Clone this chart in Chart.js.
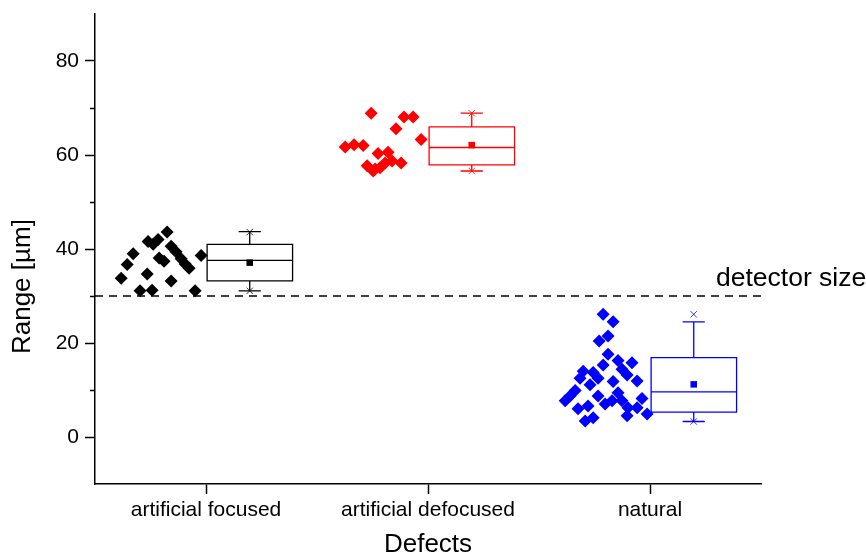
<!DOCTYPE html>
<html>
<head>
<meta charset="utf-8">
<script src="https://cdn.jsdelivr.net/npm/chart.js@4/dist/chart.umd.min.js"></script>
<style>
  html, body { margin: 0; padding: 0; background: #ffffff; }
  #wrap { width: 866px; height: 558px; }
</style>
</head>
<body>
<div id="wrap"><canvas id="c" width="866" height="558"></canvas></div>
<script>
// Defect groups along the x axis
const categories = ['artificial focused', 'artificial defocused', 'natural'];
const groupColors = ['#000000', '#ff0000', '#0000ff'];

// Measured ranges (µm) and their horizontal jitter within each group
const focusedValues  = [33.8, 36.7, 39.0, 31.1, 34.7, 31.2, 41.6, 41.0, 42.0, 43.6,
                        38.1, 37.4, 40.6, 39.4, 37.9, 36.8, 35.9, 33.2, 31.1, 38.6];
const focusedJitter  = [-0.382, -0.355, -0.328, -0.297, -0.265, -0.243, -0.261, -0.238, -0.216, -0.175,
                        -0.211, -0.189, -0.157, -0.135, -0.112, -0.094, -0.076, -0.157, -0.049, -0.022];

const defocusedValues = [61.7, 62.2, 62.0, 68.9, 57.7, 56.6, 57.3, 58.3, 58.7, 58.3,
                         60.3, 60.6, 65.6, 68.1, 68.1, 63.3, 57.0];
const defocusedJitter = [-0.373, -0.333, -0.292, -0.256, -0.274, -0.247, -0.216, -0.193, -0.162, -0.121,
                         -0.225, -0.180, -0.144, -0.108, -0.067, -0.031, -0.238];

const naturalValues = [26.1, 24.5, 20.4, 21.5, 17.6, 16.3, 15.8, 15.3, 14.0, 13.7,
                       12.5, 14.4, 13.2, 12.5, 11.1, 11.8, 11.9, 9.9, 8.7, 7.7,
                       9.4, 8.7, 7.7, 8.2, 7.0, 7.7, 6.0, 6.6, 6.2, 6.2,
                       4.9, 3.4, 4.1, 4.5];
const naturalJitter = [-0.211, -0.166, -0.229, -0.189, -0.189, -0.144, -0.081, -0.211, -0.301, -0.256,
                       -0.234, -0.126, -0.103, -0.315, -0.270, -0.166, -0.058, -0.337, -0.360, -0.382,
                       -0.144, -0.234, -0.126, -0.036, -0.202, -0.171, -0.324, -0.279, -0.099, -0.058,
                       -0.013, -0.292, -0.256, -0.103];

// Box statistics per group
const boxMin     = [31.1, 56.6, 3.3];
const whiskerLow = [31.1, 56.6, 3.3];
const q1         = [33.2, 57.9, 5.3];
const median     = [37.6, 61.6, 9.6];
const q3         = [41.0, 66.0, 16.9];
const whiskerHigh= [43.7, 68.9, 24.5];
const boxMax     = [43.6, 68.9, 26.1];
const mean       = [37.1, 62.1, 11.2];

// Reference level
const detectorSize = 30;
const detectorLabel = 'detector size';

// Axis titles
const xTitle = 'Defects';
const yTitle = 'Range [µm]';

// Y axis ticks
const majorTicks = [0, 20, 40, 60, 80];
const minorTicks = [10, 30, 50, 70];

const BOX_LEFT = 0.005, BOX_RIGHT = 0.39, BOX_MID = 0.197, CAP_HALF = 0.05;
const FONT = "'Liberation Sans', Arial, sans-serif";

const pointSets = [
  [focusedValues, focusedJitter],
  [defocusedValues, defocusedJitter],
  [naturalValues, naturalJitter]
];

const datasets = [];
pointSets.forEach(([vals, jit], i) => {
  datasets.push({
    type: 'scatter',
    data: vals.map((v, k) => ({ x: i + 1 + jit[k], y: v })),
    pointStyle: 'rectRot',
    radius: 6.5,
    backgroundColor: groupColors[i],
    borderColor: groupColors[i],
    borderWidth: 0,
    order: 1
  });
  // mean marker
  datasets.push({
    type: 'scatter',
    data: [{ x: i + 1 + BOX_MID, y: mean[i] }],
    pointStyle: 'rect',
    radius: 4.6,
    backgroundColor: groupColors[i],
    borderWidth: 0,
    order: 0
  });
  // min / max markers
  datasets.push({
    type: 'scatter',
    data: [{ x: i + 1 + BOX_MID, y: boxMin[i] }, { x: i + 1 + BOX_MID, y: boxMax[i] }],
    pointStyle: 'crossRot',
    radius: 4.5,
    borderColor: groupColors[i],
    borderWidth: 0.8,
    order: 0
  });
});

// dashed detector-size line across the whole x range
datasets.push({
  type: 'line',
  data: [{ x: 0.5, y: detectorSize }, { x: 3.5, y: detectorSize }],
  borderColor: '#000000',
  borderWidth: 1.6,
  borderDash: [8, 6],
  pointRadius: 0,
  fill: false,
  order: 5
});

const boxPlugin = {
  id: 'boxes',
  afterDatasetsDraw(chart) {
    const { ctx, scales: { x, y } } = chart;
    ctx.save();
    categories.forEach((_, i) => {
      const c = i + 1;
      const xl = x.getPixelForValue(c + BOX_LEFT);
      const xr = x.getPixelForValue(c + BOX_RIGHT);
      const xm = x.getPixelForValue(c + BOX_MID);
      const cl = x.getPixelForValue(c + BOX_MID - CAP_HALF);
      const cr = x.getPixelForValue(c + BOX_MID + CAP_HALF);
      const yq1 = y.getPixelForValue(q1[i]);
      const yq3 = y.getPixelForValue(q3[i]);
      const ymed = y.getPixelForValue(median[i]);
      const ylo = y.getPixelForValue(whiskerLow[i]);
      const yhi = y.getPixelForValue(whiskerHigh[i]);
      ctx.strokeStyle = groupColors[i];
      ctx.lineWidth = 1.3;
      ctx.beginPath();
      ctx.rect(xl, yq3, xr - xl, yq1 - yq3);
      ctx.moveTo(xl, ymed); ctx.lineTo(xr, ymed);
      ctx.moveTo(xm, yq3); ctx.lineTo(xm, yhi);
      ctx.moveTo(xm, yq1); ctx.lineTo(xm, ylo);
      ctx.moveTo(cl, yhi); ctx.lineTo(cr, yhi);
      ctx.moveTo(cl, ylo); ctx.lineTo(cr, ylo);
      ctx.stroke();
    });
    ctx.restore();
  }
};

const extrasPlugin = {
  id: 'extras',
  afterDraw(chart) {
    const { ctx, chartArea, scales: { y } } = chart;
    ctx.save();
    // minor ticks on the y axis
    ctx.strokeStyle = '#000000';
    ctx.lineWidth = 1.5;
    ctx.beginPath();
    minorTicks.forEach(v => {
      const py = Math.round(y.getPixelForValue(v)) + 0.5;
      ctx.moveTo(chartArea.left - 5, py);
      ctx.lineTo(chartArea.left, py);
    });
    ctx.stroke();
    ctx.fillStyle = '#000000';
    // detector size label
    ctx.font = '26.5px ' + FONT;
    ctx.textAlign = 'left';
    ctx.textBaseline = 'alphabetic';
    ctx.fillText(detectorLabel, chartArea.right - 45, y.getPixelForValue(detectorSize) - 10);
    // y axis title
    ctx.font = '26px ' + FONT;
    ctx.translate(23, y.getPixelForValue(32));
    ctx.rotate(-Math.PI / 2);
    ctx.textAlign = 'center';
    ctx.textBaseline = 'middle';
    ctx.fillText(yTitle, 0, 0);
    ctx.restore();
  }
};

new Chart(document.getElementById('c'), {
  data: { datasets },
  plugins: [boxPlugin, extrasPlugin],
  options: {
    responsive: false,
    animation: false,
    layout: { padding: { top: 14, right: 105, left: 0, bottom: 0 } },
    plugins: { legend: { display: false }, tooltip: { enabled: false } },
    scales: {
      x: {
        type: 'linear',
        min: 0.5,
        max: 3.5,
        afterFit(scale) { scale.height = 74; scale.paddingLeft = 0; scale.paddingRight = 0; },
        afterBuildTicks(scale) { scale.ticks = categories.map((_, i) => ({ value: i + 1 })); },
        border: { display: true, color: '#000000', width: 1.5 },
        grid: { drawOnChartArea: false, drawTicks: true, tickLength: 10, tickColor: '#000000', tickWidth: 1.5 },
        ticks: {
          autoSkip: false,
          maxRotation: 0,
          padding: 4,
          color: '#000000',
          font: { family: FONT, size: 21 },
          callback: v => categories[Math.round(v) - 1] || ''
        },
        title: {
          display: true,
          text: xTitle,
          color: '#000000',
          font: { family: FONT, size: 26, lineHeight: 1 },
          padding: { top: 0, bottom: 0 }
        }
      },
      y: {
        type: 'linear',
        min: -10,
        max: 90,
        afterFit(scale) { scale.width = 95; scale.paddingTop = 0; scale.paddingBottom = 0; },
        afterBuildTicks(scale) { scale.ticks = majorTicks.map(v => ({ value: v })); },
        border: { display: true, color: '#000000', width: 1.5 },
        grid: { drawOnChartArea: false, drawTicks: true, tickLength: 10, tickColor: '#000000', tickWidth: 1.5 },
        ticks: {
          padding: 6,
          color: '#000000',
          font: { family: FONT, size: 21 },
          callback: v => String(v)
        },
        title: { display: false }
      }
    }
  }
});
</script>
</body>
</html>
